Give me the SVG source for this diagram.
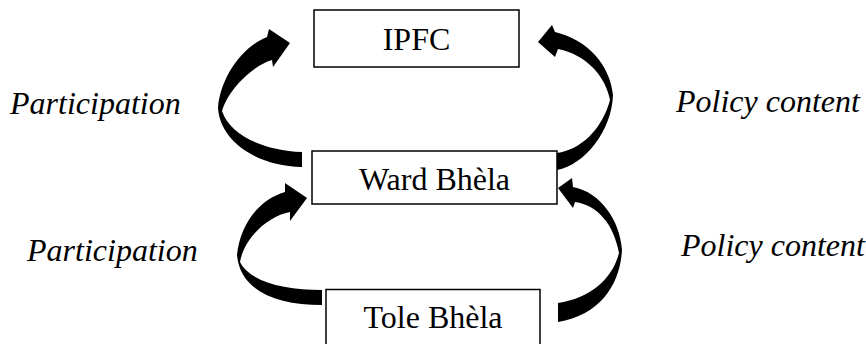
<svg xmlns="http://www.w3.org/2000/svg" width="866" height="344" viewBox="0 0 866 344">
  <style>
    .box { fill: #ffffff; stroke: #000000; stroke-width: 1.5; }
    .name { font-family: "Liberation Serif", "Times New Roman", serif; font-size: 32px; fill: #000000; text-anchor: middle; }
    .lbl { font-family: "Liberation Serif", "Times New Roman", serif; font-size: 32px; font-style: italic; fill: #000000; }
    .arrow { fill: #000000; stroke: none; }
  </style>
  <rect width="866" height="344" fill="#ffffff"/>

  <!-- curved block arrows between levels -->
  <g id="connectors">
    <!-- Ward Bhèla to IPFC, left side -->
    <path class="arrow" d="M 302,152 C 262,150 230,135 222,111 C 228,90 252,66 272,60 L 273,67 L 290,43 L 269,29 L 267,37 C 240,48 220,80 218,108 C 220,140 255,166 302,167 Z"/>
    <!-- Ward Bhèla to IPFC, right side -->
    <path class="arrow" d="M 557,153 C 580,150 602,130 610,100 C 606,78 588,55 558,49 L 555,57 L 538,42 L 552,25 L 555,32 C 588,40 610,65 613,95 C 612,130 585,165 557,170 Z"/>
    <!-- Tole Bhèla to Ward Bhèla, left side -->
    <path class="arrow" d="M 322,290 C 285,290 250,282 240,262 C 244,238 268,216 290,212 L 290,221 L 307,198 L 285,183 L 285,192 C 258,200 240,225 237,255 C 240,290 275,305 322,305 Z"/>
    <!-- Tole Bhèla to Ward Bhèla, right side -->
    <path class="arrow" d="M 558,303 C 590,298 612,280 619,253 C 614,225 598,205 575,202 L 573,208 L 558,188 L 572,178 L 573,187 C 600,192 620,220 622,250 C 620,285 600,315 558,322 Z"/>
  </g>

  <g id="node-ipfc">
    <rect class="box" x="314" y="10" width="205" height="57"/>
    <text class="name" x="416.5" y="50">IPFC</text>
  </g>

  <g id="node-ward">
    <rect class="box" x="312" y="151" width="245" height="53"/>
    <text class="name" x="434.5" y="190">Ward Bhèla</text>
  </g>

  <g id="node-tole">
    <rect class="box" x="326" y="289.5" width="214" height="70"/>
    <text class="name" x="433" y="328">Tole Bhèla</text>
  </g>

  <g id="labels">
    <text class="lbl" x="10" y="114">Participation</text>
    <text class="lbl" x="676" y="112">Policy content</text>
    <text class="lbl" x="27" y="261">Participation</text>
    <text class="lbl" x="681" y="256">Policy content</text>
  </g>
</svg>
